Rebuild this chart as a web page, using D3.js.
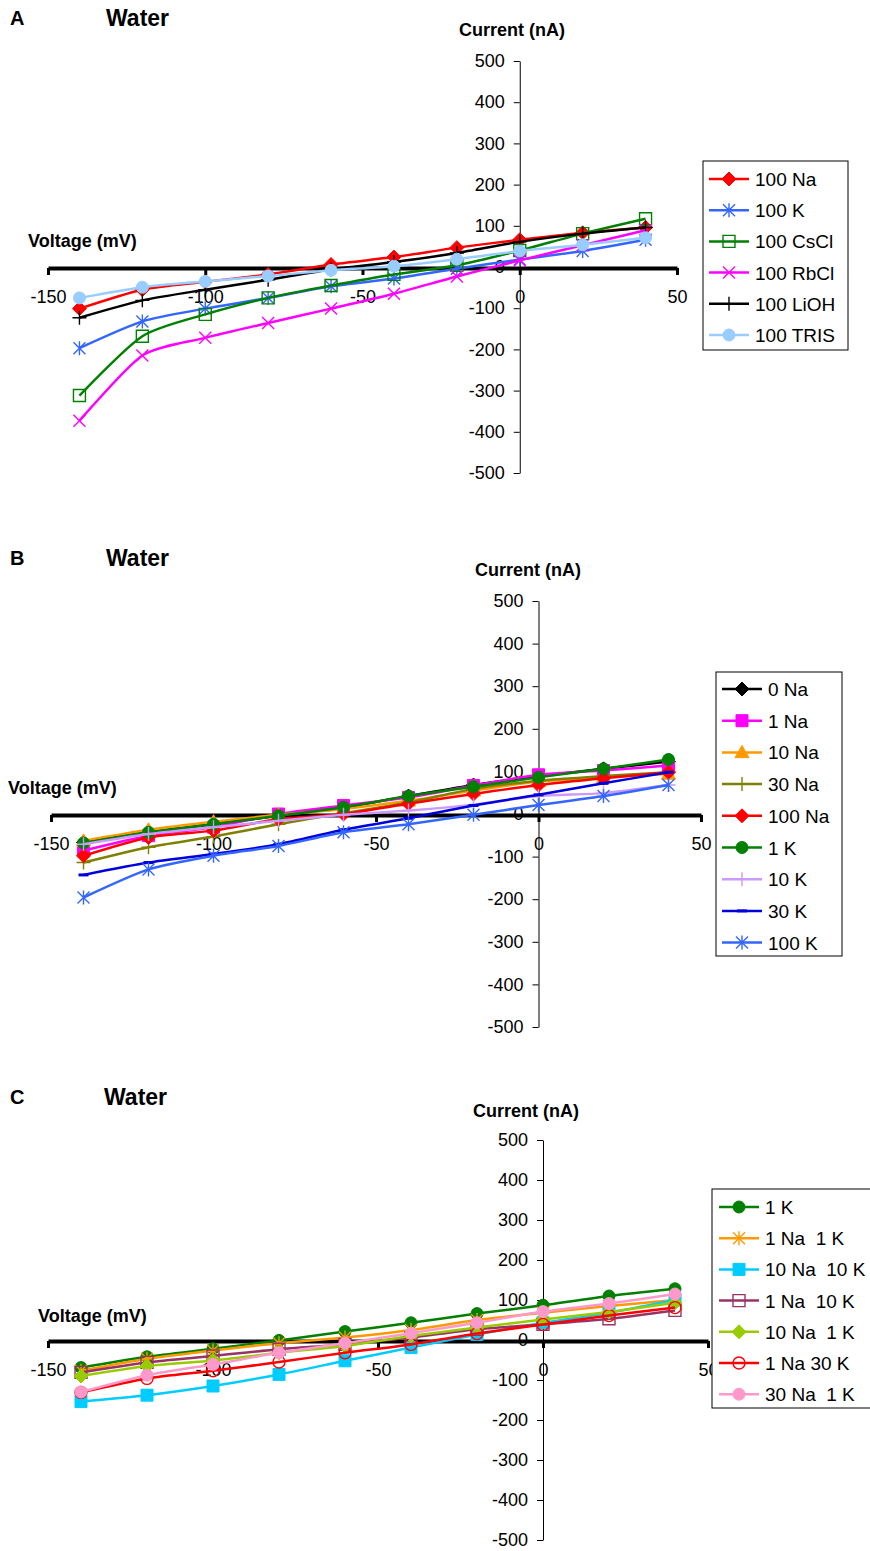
<!DOCTYPE html>
<html>
<head>
<meta charset="utf-8">
<title>Water I-V curves</title>
<style>
  body { margin: 0; background: #fff; }
  svg { display: block; font-family: Arial, "Liberation Sans", sans-serif; }
</style>
<script src="https://d3js.org/d3.v7.min.js"></script>
</head>
<body>
<svg id="chart"></svg>
<script>
// shared axes
var voltages = [-140, -120, -100, -80, -60, -40, -20, 0, 20, 40];
var xTicks = [-150, -100, -50, 0, 50];
var yTicks = [-500, -400, -300, -200, -100, 0, 100, 200, 300, 400, 500];

// panel A
var namesA = ["100 Na", "100 K", "100 CsCl", "100 RbCl", "100 LiOH", "100 TRIS"];
var a100Na   = [-101, -55, -36, -18, 6, 24, 47, 66, 83, 96];
var a100K    = [-197, -132, -101, -75, -47, -28, -4, 18, 39, 66];
var a100CsCl = [-312, -168, -115, -75, -45, -18, 4, 40, 81, 117];
var a100RbCl = [-373, -215, -172, -136, -101, -65, -23, 16, 53, 89];
var a100LiOH = [-123, -81, -55, -31, -6, 12, 34, 61, 81, 96];
var a100TRIS = [-75, -49, -35, -22, -8, 2, 19, 39, 54, 71];

// panel B
var namesB = ["0 Na", "1 Na", "10 Na", "30 Na", "100 Na", "1 K", "10 K", "30 K", "100 K"];
var b0Na   = [-67, -43, -24, -4, 16, 42, 68, 89, 106, 123];
var b1Na   = [-86, -51, -31, 0, 20, 39, 67, 92, 102, 114];
var b10Na  = [-63, -37, -18, -2, 12, 31, 55, 76, 86, 94];
var b30Na  = [-114, -78, -53, -24, 2, 27, 59, 78, 89, 98];
var b100Na = [-98, -55, -39, -12, 0, 24, 47, 68, 84, 98];
var b1K    = [-68, -43, -24, -4, 16, 42, 64, 86, 106, 128];
var b10K   = [-71, -47, -31, -16, -2, 8, 22, 42, 49, 68];
var b30K   = [-143, -114, -94, -71, -37, -10, 20, 45, 72, 98];
var b100K  = [-196, -130, -98, -75, -43, -24, -2, 21, 42, 68];

// panel C
var namesC = ["1 K", "1 Na  1 K", "10 Na  10 K", "1 Na  10 K", "10 Na  1 K", "1 Na 30 K", "30 Na  1 K"];
var c1K      = [-69, -42, -22, -1, 21, 43, 66, 87, 110, 128];
var c1Na1K   = [-77, -47, -26, -8, 6, 25, 50, 68, 85, 100];
var c10Na10K = [-154, -138, -115, -86, -52, -19, 14, 43, 68, 100];
var c1Na10K  = [-81, -56, -40, -23, -11, 6, 27, 39, 53, 74];
var c10Na1K  = [-90, -65, -51, -32, -15, 10, 31, 51, 70, 93];
var c1Na30K  = [-131, -96, -77, -55, -32, -11, 16, 39, 61, 81];
var c30Na1K  = [-130, -88, -61, -32, -8, 17, 43, 71, 91, 115];

// styles
var colorsA  = ["#ff0000", "#3366ff", "#008000", "#ff00ff", "#000000", "#99ccff"];
var markersA = ["diamond", "star", "squareOpen", "x", "plus", "circle"];
var colorsB  = ["#000000", "#ff00ff", "#ff9900", "#808000", "#ff0000", "#008000", "#cc99ff", "#0000dd", "#3366ff"];
var markersB = ["diamond", "square", "triangle", "plus", "diamond", "circle", "plus", "dash", "star"];
var colorsC  = ["#008000", "#ff9900", "#00ccff", "#993366", "#99cc00", "#ff0000", "#ff99cc"];
var markersC = ["circle", "star", "square", "squareOpen", "diamond", "circleOpen", "circle"];

var W = 870, H = 1551;
var svg = d3.select("#chart").attr("width", W).attr("height", H);
var plainNum = function(d) { return String(d); };  // keep ascii hyphen like the original

function drawMarker(g, type, color, x, y) {
  var s;
  if (type === "circle" || type === "circleOpen") {
    g.append("circle").attr("cx", x).attr("cy", y).attr("r", 6)
      .attr("fill", type === "circle" ? color : "none")
      .attr("stroke", color).attr("stroke-width", type === "circle" ? 1 : 1.4);
    return;
  }
  var p = d3.path();
  var fill = "none", sw = 1.4;
  if (type === "diamond") {
    s = 7; p.moveTo(x, y - s); p.lineTo(x + s, y); p.lineTo(x, y + s); p.lineTo(x - s, y); p.closePath(); fill = color; sw = 1;
  } else if (type === "square" || type === "squareOpen") {
    s = 6; p.rect(x - s, y - s, 2 * s, 2 * s);
    if (type === "square") { fill = color; sw = 1; }
  } else if (type === "triangle") {
    s = 7; p.moveTo(x, y - s); p.lineTo(x + s, y + s * 0.75); p.lineTo(x - s, y + s * 0.75); p.closePath(); fill = color; sw = 1;
  } else if (type === "x") {
    s = 6; p.moveTo(x - s, y - s); p.lineTo(x + s, y + s); p.moveTo(x - s, y + s); p.lineTo(x + s, y - s);
  } else if (type === "plus") {
    s = 7; p.moveTo(x - s, y); p.lineTo(x + s, y); p.moveTo(x, y - s); p.lineTo(x, y + s);
  } else if (type === "star") {
    s = 6; p.moveTo(x - s, y - s); p.lineTo(x + s, y + s); p.moveTo(x - s, y + s); p.lineTo(x + s, y - s);
    p.moveTo(x, y - s - 1); p.lineTo(x, y + s + 1);
  } else if (type === "dash") {
    s = 5; p.moveTo(x - s, y); p.lineTo(x + s, y); sw = 3;
  }
  g.append("path").attr("d", p.toString()).attr("fill", fill)
    .attr("stroke", color).attr("stroke-width", sw);
}

function drawPanel(cfg) {
  var g = svg.append("g");
  var x = d3.scaleLinear().domain([-150, 50]).range([cfg.xl, cfg.xr]);
  var y = d3.scaleLinear().domain([-500, 500]).range([cfg.yb, cfg.yt]);

  g.append("text").attr("x", 10).attr("y", cfg.titleY).attr("font-weight", "bold")
    .attr("font-size", 20).text(cfg.letter);
  g.append("text").attr("x", cfg.waterX).attr("y", cfg.titleY + 1).attr("font-weight", "bold")
    .attr("font-size", 23).text("Water");
  g.append("text").attr("x", cfg.curX).attr("y", cfg.curY).attr("font-weight", "bold")
    .attr("font-size", 18).text("Current (nA)");
  g.append("text").attr("x", cfg.voltX).attr("y", cfg.voltY).attr("font-weight", "bold")
    .attr("font-size", 18).text("Voltage (mV)");

  // y axis
  var ya = g.append("g").attr("transform", "translate(" + x(0) + ",0)")
    .call(d3.axisLeft(y).tickValues(yTicks).tickFormat(plainNum).tickSize(6).tickSizeOuter(0).tickPadding(9));
  ya.selectAll("text").attr("font-size", 18).attr("font-family", "Arial, 'Liberation Sans', sans-serif").attr("fill", "#000");
  ya.selectAll("line, path").attr("stroke", "#000");

  // x axis
  var xa = g.append("g").attr("transform", "translate(0," + (y(0) + 1) + ")")
    .call(d3.axisBottom(x).tickValues(xTicks).tickFormat(plainNum).tickSize(7).tickSizeOuter(0).tickPadding(15));
  xa.select(".domain").attr("stroke", "#000").attr("stroke-width", 4);
  xa.selectAll("line").attr("stroke", "#000").attr("stroke-width", 3);
  xa.selectAll("text").attr("font-size", 18).attr("font-family", "Arial, 'Liberation Sans', sans-serif").attr("fill", "#000");

  var line = d3.line().x(function(d, i) { return x(voltages[i]); })
    .y(function(d) { return y(d); }).curve(d3.curveCardinal.tension(0.3));

  cfg.series.forEach(function(vals, k) {
    g.append("path").datum(vals).attr("d", line).attr("fill", "none")
      .attr("stroke", cfg.colors[k]).attr("stroke-width", 2.5);
    var mg = g.append("g");
    vals.forEach(function(v, i) { drawMarker(mg, cfg.markers[k], cfg.colors[k], x(voltages[i]), y(v)); });
  });

  // legend
  var L = cfg.legend;
  var lg = g.append("g");
  lg.append("rect").attr("x", L.x).attr("y", L.y).attr("width", L.w).attr("height", L.h)
    .attr("fill", "#fff").attr("stroke", "#000").attr("stroke-width", 1);
  cfg.names.forEach(function(name, k) {
    var ry = L.y0 + k * L.step;
    lg.append("line").attr("x1", L.lx).attr("x2", L.lx + 40).attr("y1", ry).attr("y2", ry)
      .attr("stroke", cfg.colors[k]).attr("stroke-width", 2.5);
    drawMarker(lg, cfg.markers[k], cfg.colors[k], L.lx + 20, ry);
    lg.append("text").attr("x", L.lx + 46).attr("y", ry + 7).attr("font-size", 19)
      .attr("xml:space", "preserve").style("white-space", "pre").text(name);
  });
}

drawPanel({
  letter: "A", titleY: 25, waterX: 106, curX: 459, curY: 36, voltX: 28, voltY: 247,
  xl: 48, xr: 677, yb: 473, yt: 61,
  names: namesA, colors: colorsA, markers: markersA,
  series: [a100Na, a100K, a100CsCl, a100RbCl, a100LiOH, a100TRIS],
  legend: { x: 703, y: 161, w: 145, h: 189, lx: 709, y0: 179, step: 31.2 }
});

drawPanel({
  letter: "B", titleY: 565, waterX: 106, curX: 475, curY: 576, voltX: 8, voltY: 794,
  xl: 51, xr: 701, yb: 1027, yt: 601,
  names: namesB, colors: colorsB, markers: markersB,
  series: [b0Na, b1Na, b10Na, b30Na, b100Na, b1K, b10K, b30K, b100K],
  legend: { x: 716, y: 672, w: 126, h: 284, lx: 722, y0: 689, step: 31.7 }
});

drawPanel({
  letter: "C", titleY: 1104, waterX: 104, curX: 473, curY: 1117, voltX: 38, voltY: 1322,
  xl: 48, xr: 708, yb: 1540, yt: 1140,
  names: namesC, colors: colorsC, markers: markersC,
  series: [c1K, c1Na1K, c10Na10K, c1Na10K, c10Na1K, c1Na30K, c30Na1K],
  legend: { x: 712, y: 1189, w: 180, h: 219, lx: 719, y0: 1207, step: 31.2 }
});
</script>
</body>
</html>
